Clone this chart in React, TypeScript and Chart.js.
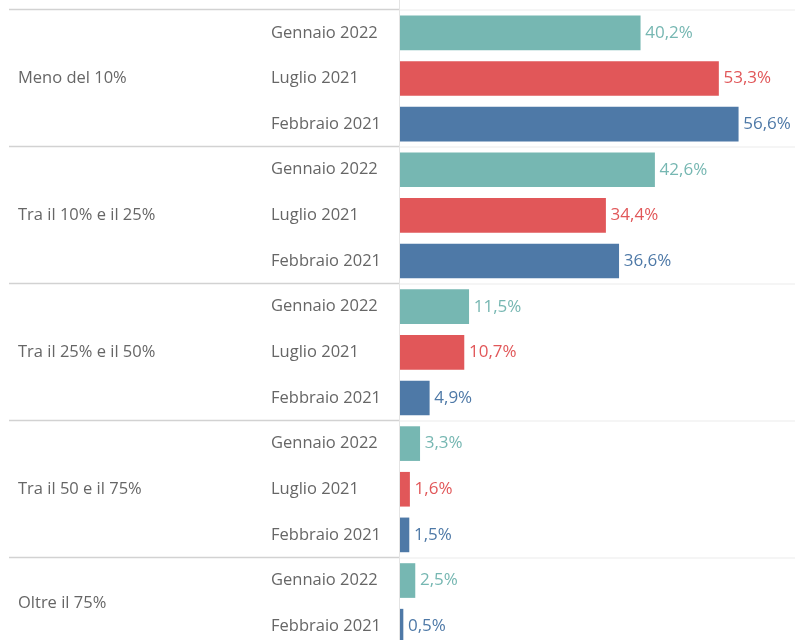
import React, { useEffect, useRef } from "react";
import { Chart, registerables } from "chart.js";

Chart.register(...registerables);

const groups = ["Meno del 10%", "Tra il 10% e il 25%", "Tra il 25% e il 50%", "Tra il 50 e il 75%", "Oltre il 75%"];
const periods = ["Gennaio 2022", "Luglio 2021", "Febbraio 2021"];
const gennaio2022 = [40.2, 42.6, 11.5, 3.3, 2.5];
const luglio2021: (number | null)[] = [53.3, 34.4, 10.7, 1.6, null];
const febbraio2021 = [56.6, 36.6, 4.9, 1.5, 0.5];
const periodColors = ["#76b7b2", "#e15759", "#4e79a7"];

const FONT = "'Open Sans', sans-serif";

type Row = { group: number; period: number; value: number };

function buildRows(): Row[] {
  const rows: Row[] = [];
  const series = [gennaio2022, luglio2021, febbraio2021];
  groups.forEach((_, g) => {
    series.forEach((s, p) => {
      const v = s[g];
      if (v !== null && v !== undefined) rows.push({ group: g, period: p, value: v as number });
    });
  });
  return rows;
}

export default function App() {
  const ref = useRef<HTMLCanvasElement | null>(null);
  useEffect(() => {
    const rows = buildRows();
    const labels = rows.map((r) => periods[r.period]);
    const values = rows.map((r) => r.value);
    const colors = rows.map((r) => periodColors[r.period]);

    const decor = {
      id: "decor",
      beforeDatasetsDraw(chart: any) {
        const ctx = chart.ctx;
        const y = chart.scales.y;
        const a = chart.chartArea;
        ctx.save();
        // vertical axis line
        ctx.strokeStyle = "#e4e4e4";
        ctx.lineWidth = 1;
        ctx.beginPath();
        ctx.moveTo(a.left - 0.5, 0);
        ctx.lineTo(a.left - 0.5, chart.height);
        ctx.stroke();
        // separators
        const bounds: number[] = [a.top - 1];
        for (let i = 1; i < rows.length; i++) {
          if (rows[i].group !== rows[i - 1].group) {
            bounds.push((y.getPixelForValue(i - 1) + y.getPixelForValue(i)) / 2 - 1);
          }
        }
        bounds.forEach((b) => {
          const yy = Math.round(b) + 0.5;
          ctx.strokeStyle = "#d2d2d2";
          ctx.lineWidth = 1.5;
          ctx.beginPath();
          ctx.moveTo(9, yy);
          ctx.lineTo(a.left - 1, yy);
          ctx.stroke();
          ctx.strokeStyle = "#ebebeb";
          ctx.lineWidth = 1;
          ctx.beginPath();
          ctx.moveTo(a.left, yy + 0.5);
          ctx.lineTo(chart.width, yy + 0.5);
          ctx.stroke();
        });
        // labels
        ctx.fillStyle = "#666666";
        ctx.font = `16.5px ${FONT}`;
        ctx.textBaseline = "middle";
        ctx.textAlign = "left";
        rows.forEach((r, i) => {
          ctx.fillText(periods[r.period], 271, y.getPixelForValue(i));
        });
        groups.forEach((gname, g) => {
          const idx = rows.map((r, i) => (r.group === g ? i : -1)).filter((i) => i >= 0);
          const cy = (y.getPixelForValue(idx[0]) + y.getPixelForValue(idx[idx.length - 1])) / 2;
          ctx.fillText(gname, 18, cy);
        });
        ctx.restore();
      },
      afterDatasetsDraw(chart: any) {
        const ctx = chart.ctx;
        const meta = chart.getDatasetMeta(0);
        ctx.save();
        ctx.font = `17px ${FONT}`;
        ctx.textBaseline = "middle";
        ctx.textAlign = "left";
        meta.data.forEach((bar: any, i: number) => {
          ctx.fillStyle = colors[i];
          ctx.fillText(values[i].toFixed(1).replace(".", ",") + "%", bar.x + 5, bar.y);
        });
        ctx.restore();
      },
    };

    const chart = new Chart(ref.current!, {
      type: "bar",
      data: {
        labels,
        datasets: [
          {
            data: values,
            backgroundColor: colors,
            borderWidth: 0,
            barThickness: 34,
          },
        ],
      },
      options: {
        indexAxis: "y",
        animation: false,
        responsive: false,
        maintainAspectRatio: false,
        layout: { padding: { left: 400, top: 10, bottom: 1, right: 0 } },
        plugins: { legend: { display: false }, tooltip: { enabled: false } },
        scales: {
          x: { display: false, min: 0, max: 66.1 },
          y: { display: false, offset: true },
        },
      },
      plugins: [decor],
    });
    return () => chart.destroy();
  }, []);

  return (
    <div style={{ position: "fixed", left: 0, top: 0, width: 795, height: 640, overflow: "hidden", background: "#fff" }}>
      <canvas ref={ref} width={795} height={650} style={{ width: 795, height: 650, display: "block" }} />
    </div>
  );
}
